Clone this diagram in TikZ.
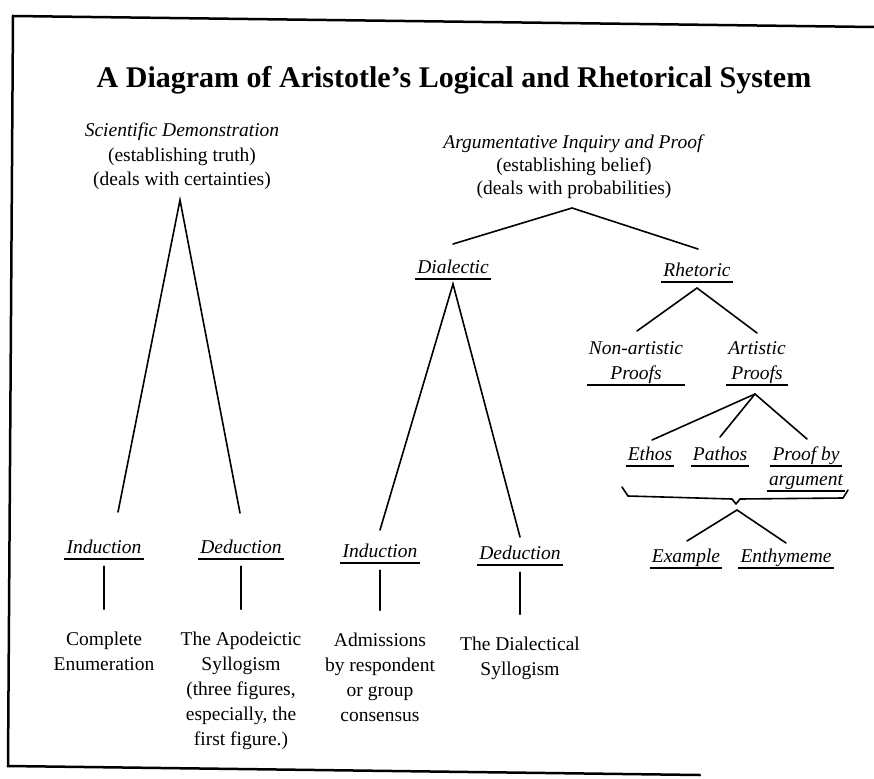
\documentclass[tikz,border=0pt]{standalone}
\usepackage{fontspec}
\setmainfont{Liberation Serif}
\usetikzlibrary{calc}
\begin{document}
\begin{tikzpicture}[x=1pt,y=-1pt,
  txt/.style={font=\fontsize{19.5}{25}\selectfont, align=center, inner sep=0pt, anchor=base},
  it/.style={txt, font=\fontsize{19.5}{25}\selectfont\itshape},
  ul/.style={it, inner xsep=2pt, inner ysep=0pt, text depth=6pt},
  ulm/.style={it, inner xsep=2pt, inner ysep=1.5pt},
  ulline/.style={line width=1.5pt},
  conn/.style={line width=1.6pt, line cap=round, line join=miter},
  frameline/.style={line width=2.5pt, line cap=round}]
\useasboundingbox (0,0) rectangle (874,778);

% frame
\coordinate (f1) at (874,27);
\coordinate (f2) at (13,16);
\coordinate (f3) at (8,766);
\coordinate (f4) at (700,775);
\draw[frameline] (f1) -- (f2) -- (f3) -- (f4);

% title
\node[font=\fontsize{30}{36}\selectfont\bfseries, anchor=base, inner sep=0pt] (title) at (454,88)
  {A Diagram of Aristotle’s Logical and Rhetorical System};

% ---------------- Scientific demonstration ----------------
\node[txt, font=\fontsize{19.5}{24}\selectfont] (sd) at (182,185) {\textit{Scientific Demonstration}\\(establishing truth)\\(deals with certainties)};
\coordinate (sdA) at (180,200);
\coordinate (sdL) at (118,512);
\coordinate (sdR) at (240,513);
\draw[conn] (sdL) -- (sdA) -- (sdR);

\node[ul] (ind1) at (104,553) {Induction};
\node[ul] (ded1) at (241,553) {Deduction};
\node[txt] (ce) at (104,670) {Complete\\Enumeration};
\node[txt] (as) at (241,745) {The Apodeictic\\Syllogism\\(three figures,\\especially, the\\first figure.)};
\draw[conn, shorten <=7pt, shorten >=22pt] (ind1.south) -- (ce.north);
\draw[conn, shorten <=7pt, shorten >=22pt] (ded1.south) -- (as.north);

% ---------------- Argumentative inquiry ----------------
\node[txt, font=\fontsize{19.5}{23}\selectfont] (aip) at (574,194) {\textit{Argumentative Inquiry and Proof}\\(establishing belief)\\(deals with probabilities)};
\coordinate (aipA) at (572,208);
\coordinate (aipL) at (453,244);
\coordinate (aipR) at (698,249);
\draw[conn] (aipL) -- (aipA) -- (aipR);

\node[ul] (dia) at (453,273) {Dialectic};
\node[ul] (rhe) at (697,276) {Rhetoric};

% Dialectic subtree
\coordinate (diaA) at (453,284);
\coordinate (diaL) at (380,530);
\coordinate (diaR) at (520,537);
\draw[conn] (diaL) -- (diaA) -- (diaR);
\node[ul] (ind2) at (380,557) {Induction};
\node[ul] (ded2) at (520,559) {Deduction};
\node[txt] (adm) at (380,721) {Admissions\\by respondent\\or group\\consensus};
\node[txt] (ds) at (520,675) {The Dialectical\\Syllogism};
\draw[conn, shorten <=7pt, shorten >=22pt] (ind2.south) -- (adm.north);
\draw[conn, shorten <=7pt, shorten >=22pt] (ded2.south) -- (ds.north);

% Rhetoric subtree
\coordinate (rheA) at (697,288);
\coordinate (rheL) at (637,331);
\coordinate (rheR) at (757,333);
\draw[conn] (rheL) -- (rheA) -- (rheR);
\node[ulm] (nap) at (636,379) {Non-artistic\\Proofs};
\node[ulm] (ap) at (757,379) {Artistic\\Proofs};

\coordinate (apA) at (755,394);
\coordinate (apL) at (652,440);
\coordinate (apM) at (720,437);
\coordinate (apR) at (807,439);
\draw[conn] (apL) -- (apA) -- (apR);
\draw[conn] (apA) -- (apM);

\node[ul] (eth) at (650,460) {Ethos};
\node[ul] (pat) at (720,460) {Pathos};
\node[ul] (pb1) at (806,460) {Proof by};
\node[ul] (pb2) at (806,485) {argument};

% brace
\coordinate (b1) at (622,487);
\coordinate (b2) at (628,496);
\coordinate (b3) at (732,499);
\coordinate (b4) at (736,504);
\coordinate (b5) at (740,499);
\coordinate (b6) at (843,498);
\coordinate (b7) at (848,490);
\draw[conn, line join=round] (b1) -- (b2) -- (b3) -- (b4) -- (b5) -- (b6) -- (b7);

\coordinate (exA) at (737,510);
\coordinate (exL) at (687,541);
\coordinate (exR) at (786,543);
\draw[conn] (exL) -- (exA) -- (exR);
\node[ul] (exa) at (686,562) {Example};
\node[ul] (ent) at (786,562) {Enthymeme};

% underlines
\foreach \n in {ind1,ded1,dia,rhe,ind2,ded2,nap,ap,eth,pat,pb1,pb2,exa,ent}
  \draw[ulline] (\n.south west) -- (\n.south east);
\end{tikzpicture}
\end{document}
